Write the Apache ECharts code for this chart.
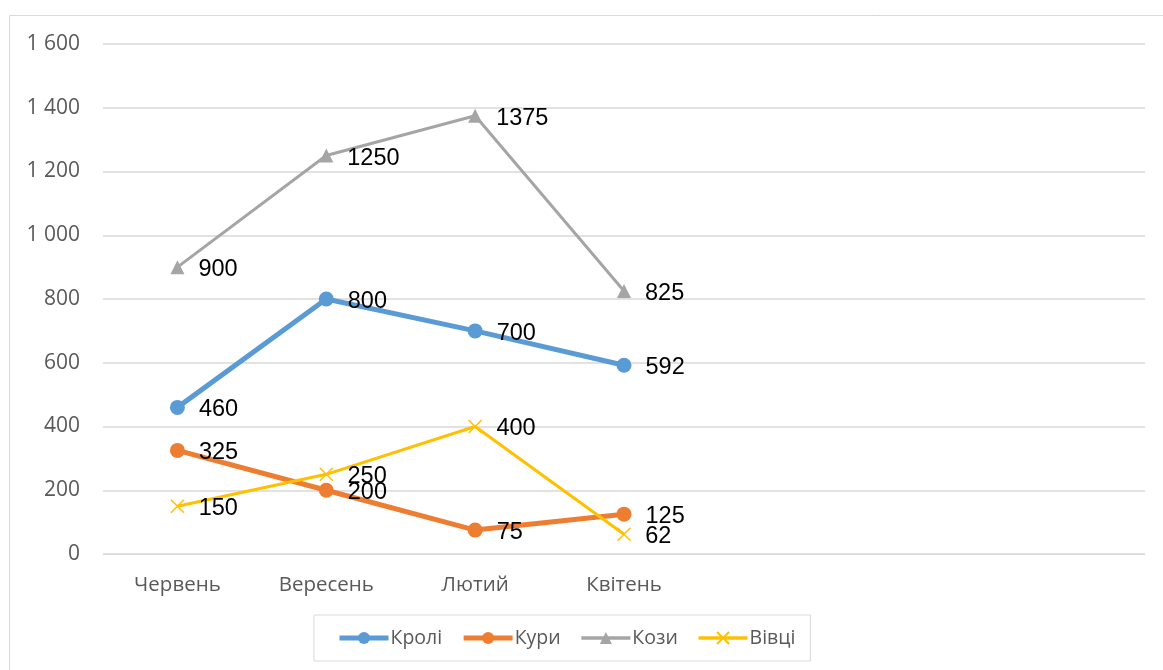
<!DOCTYPE html>
<html>
<head>
<meta charset="utf-8">
<script src="https://cdn.jsdelivr.net/npm/echarts@6/dist/echarts.min.js"></script>
<style>
html,body{margin:0;padding:0;background:#fff;}
#chart{width:1163px;height:670px;}
</style>
</head>
<body>
<div id="chart"></div>
<script>
const categories = ['Червень', 'Вересень', 'Лютий', 'Квітень', '', '', ''];
const kroli = [460, 800, 700, 592];
const kury = [325, 200, 75, 125];
const kozy = [900, 1250, 1375, 825];
const vivtsi = [150, 250, 400, 62];
const yTicks = { min: 0, max: 1600, interval: 200 };

const chart = echarts.init(document.getElementById('chart'));
const labelStyle = {
  show: true, position: 'right', distance: 14, offset: [0, 2.5],
  color: '#000', fontSize: 23.5, fontFamily: 'Liberation Sans'
};
const xPath = 'path://M0,0L10,10M10,0L0,10';
function fmt(v){ return String(v).replace(/\B(?=(\d{3})+(?!\d))/g, ' '); }

chart.setOption({
  animation: false,
  backgroundColor: '#fff',
  graphic: [{
    type: 'rect', silent: true,
    shape: { x: 9.5, y: 15.5, width: 1200, height: 700 },
    style: { fill: 'none', stroke: '#D9D9D9', lineWidth: 1 }
  }],
  grid: { left: 103, right: 18, top: 44, bottom: 116, containLabel: false },
  legend: {
    left: 314, top: 615,
    borderColor: '#D9D9D9', borderWidth: 1,
    padding: [13, 15, 13, 23],
    itemGap: 19, itemWidth: 49, itemHeight: 15,
    textStyle: { color: '#595959', fontSize: 19.5, fontFamily: 'Open Sans', padding: [0, 0, 0, -3] },
    data: [
      { name: 'Кролі', lineStyle: { width: 5 } },
      { name: 'Кури', lineStyle: { width: 5 } },
      { name: 'Кози', lineStyle: { width: 3.5 } },
      { name: 'Вівці', lineStyle: { width: 3.5 } }
    ]
  },
  xAxis: {
    type: 'category', data: categories, boundaryGap: true,
    axisLine: { show: true, lineStyle: { color: '#D9D9D9', width: 1 } },
    axisTick: { show: false },
    axisLabel: { color: '#595959', fontSize: 20.5, fontFamily: 'Open Sans', margin: 21 }
  },
  yAxis: {
    type: 'value', min: yTicks.min, max: yTicks.max, interval: yTicks.interval,
    axisLine: { show: false }, axisTick: { show: false },
    axisLabel: { color: '#595959', fontSize: 21, fontFamily: 'Open Sans', margin: 23, formatter: fmt },
    splitLine: { lineStyle: { color: '#D9D9D9', width: 1.5 } }
  },
  series: [
    { name: 'Кролі', type: 'line', data: kroli, symbol: 'circle', symbolSize: 15,
      lineStyle: { color: '#5B9BD5', width: 5 }, itemStyle: { color: '#5B9BD5' },
      label: labelStyle, z: 4 },
    { name: 'Кури', type: 'line', data: kury, symbol: 'circle', symbolSize: 15,
      lineStyle: { color: '#ED7D31', width: 5 }, itemStyle: { color: '#ED7D31' },
      label: labelStyle, z: 3 },
    { name: 'Кози', type: 'line', data: kozy, symbol: 'triangle', symbolSize: 14,
      lineStyle: { color: '#A5A5A5', width: 3 }, itemStyle: { color: '#A5A5A5' },
      label: labelStyle, z: 2 },
    { name: 'Вівці', type: 'line', data: vivtsi, symbol: xPath, symbolSize: 13,
      lineStyle: { color: '#FFC000', width: 3 },
      itemStyle: { color: 'rgba(0,0,0,0)', borderColor: '#FFC000', borderWidth: 1.5 },
      label: labelStyle, z: 5 }
  ]
});
</script>
</body>
</html>
